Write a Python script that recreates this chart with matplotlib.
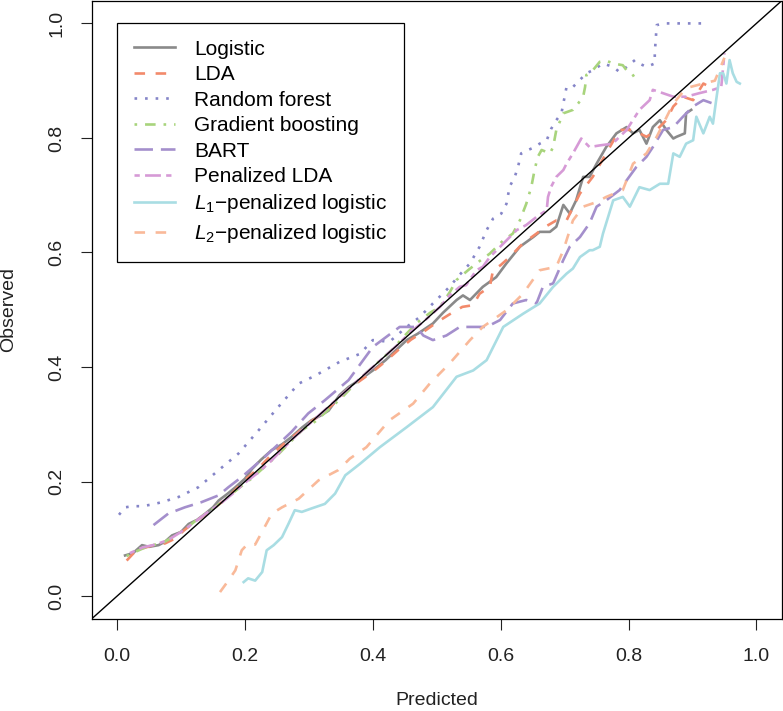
import matplotlib
matplotlib.use("Agg")
import matplotlib.pyplot as plt

plt.rcParams["font.family"] = ["Liberation Sans", "DejaVu Sans"]
plt.rcParams["mathtext.fontset"] = "custom"
plt.rcParams["mathtext.rm"] = "Liberation Sans"
plt.rcParams["mathtext.it"] = "Liberation Sans:italic"

# calibration curves (predicted, observed)
logistic_x = [0.0125, 0.025, 0.039, 0.05, 0.065, 0.075, 0.086, 0.1, 0.112, 0.125, 0.138, 0.15, 0.159, 0.172,
              0.185, 0.2, 0.211, 0.225, 0.242, 0.258, 0.273, 0.29, 0.304, 0.318, 0.331, 0.348, 0.362, 0.38, 0.4,
              0.42, 0.435, 0.453, 0.47, 0.494, 0.51, 0.531, 0.541, 0.552, 0.572, 0.593, 0.609, 0.63, 0.651, 0.661,
              0.677, 0.687, 0.698, 0.708, 0.718, 0.729, 0.739, 0.75, 0.765, 0.781, 0.797, 0.807, 0.817, 0.828,
              0.838, 0.849, 0.859, 0.87, 0.875, 0.888, 0.89, 0.898]
logistic_y = [0.071, 0.075, 0.089, 0.086, 0.089, 0.095, 0.106, 0.112, 0.126, 0.133, 0.144, 0.155, 0.167, 0.178,
              0.19, 0.205, 0.222, 0.238, 0.255, 0.265, 0.278, 0.295, 0.307, 0.315, 0.324, 0.351, 0.365, 0.378, 0.394,
              0.412, 0.428, 0.447, 0.458, 0.476, 0.495, 0.517, 0.525, 0.517, 0.54, 0.557, 0.581, 0.61, 0.627, 0.636,
              0.636, 0.645, 0.683, 0.668, 0.691, 0.732, 0.732, 0.755, 0.784, 0.808, 0.819, 0.808, 0.814, 0.79,
              0.819, 0.831, 0.814, 0.799, 0.802, 0.808, 0.843, 0.849]

lda_x = [0.015, 0.03, 0.045, 0.06, 0.075, 0.09, 0.105, 0.12, 0.135, 0.15, 0.165, 0.18, 0.2, 0.22, 0.24, 0.26, 0.28,
         0.3, 0.32, 0.34, 0.36, 0.38, 0.4, 0.42, 0.44, 0.46, 0.48, 0.5, 0.52, 0.54, 0.557, 0.567, 0.583, 0.588, 0.6,
         0.614, 0.635, 0.656, 0.67, 0.687, 0.703, 0.724, 0.744, 0.765, 0.786, 0.807, 0.828, 0.844, 0.859, 0.87,
         0.885, 0.901, 0.917, 0.927]
lda_y = [0.062, 0.08, 0.085, 0.09, 0.092, 0.1, 0.115, 0.128, 0.14, 0.152, 0.165, 0.18, 0.203, 0.222, 0.245, 0.265,
         0.283, 0.302, 0.318, 0.337, 0.36, 0.376, 0.392, 0.41, 0.43, 0.448, 0.462, 0.478, 0.492, 0.505, 0.508, 0.528,
         0.54, 0.569, 0.578, 0.592, 0.616, 0.633, 0.645, 0.656, 0.656, 0.703, 0.732, 0.773, 0.814, 0.814, 0.802,
         0.814, 0.831, 0.855, 0.872, 0.866, 0.895, 0.889]

rf_x = [0.003, 0.0125, 0.025, 0.039, 0.055, 0.07, 0.096, 0.127, 0.159, 0.19, 0.221, 0.252, 0.284, 0.31, 0.348, 0.38,
        0.4, 0.426, 0.453, 0.473, 0.494, 0.52, 0.535, 0.552, 0.567, 0.578, 0.588, 0.601, 0.609, 0.614, 0.622, 0.627,
        0.632, 0.643, 0.653, 0.661, 0.672, 0.679, 0.687, 0.695, 0.703, 0.713, 0.721, 0.734, 0.744, 0.76, 0.776,
        0.786, 0.797, 0.81, 0.817, 0.828, 0.841, 0.841, 0.843, 0.844, 0.854, 0.88, 0.917]
rf_y = [0.142, 0.155, 0.157, 0.157, 0.16, 0.164, 0.173, 0.19, 0.22, 0.249, 0.289, 0.33, 0.371, 0.385, 0.409, 0.423,
        0.447, 0.444, 0.47, 0.487, 0.511, 0.54, 0.56, 0.581, 0.61, 0.639, 0.659, 0.668, 0.685, 0.715, 0.732, 0.749,
        0.773, 0.779, 0.784, 0.79, 0.796, 0.816, 0.831, 0.843, 0.889, 0.889, 0.898, 0.913, 0.918, 0.93, 0.924,
        0.915, 0.924, 0.936, 0.93, 0.924, 0.93, 0.948, 0.98, 0.997, 1.0, 1.0, 1.0]

gb_x = [0.015, 0.03, 0.05, 0.07, 0.09, 0.11, 0.13, 0.15, 0.17, 0.19, 0.21, 0.23, 0.25, 0.27, 0.29, 0.31, 0.33, 0.35,
        0.37, 0.39, 0.41, 0.43, 0.45, 0.47, 0.49, 0.505, 0.52, 0.531, 0.55, 0.567, 0.583, 0.604, 0.619, 0.63, 0.64,
        0.648, 0.653, 0.658, 0.664, 0.677, 0.682, 0.687, 0.698, 0.713, 0.721, 0.729, 0.732, 0.734, 0.744, 0.755,
        0.765, 0.776, 0.791, 0.797, 0.805, 0.812]
gb_y = [0.07, 0.078, 0.088, 0.092, 0.105, 0.12, 0.138, 0.152, 0.17, 0.188, 0.205, 0.225, 0.245, 0.268, 0.29, 0.305,
        0.325, 0.345, 0.368, 0.39, 0.41, 0.43, 0.455, 0.478, 0.495, 0.505, 0.53, 0.552, 0.57, 0.585, 0.598, 0.621,
        0.633, 0.656, 0.685, 0.715, 0.744, 0.767, 0.779, 0.773, 0.784, 0.814, 0.843, 0.849, 0.86, 0.872, 0.889,
        0.91, 0.918, 0.933, 0.935, 0.93, 0.927, 0.918, 0.913, 0.901]

bart_x = [0.057, 0.08, 0.106, 0.132, 0.159, 0.174, 0.195, 0.231, 0.273, 0.299, 0.325, 0.362, 0.4, 0.442, 0.468,
          0.479, 0.494, 0.515, 0.536, 0.557, 0.578, 0.599, 0.619, 0.64, 0.656, 0.666, 0.682, 0.698, 0.708, 0.724,
          0.739, 0.75, 0.765, 0.786, 0.797, 0.812, 0.828, 0.838, 0.854, 0.87, 0.885, 0.901, 0.917, 0.932]
bart_y = [0.124, 0.144, 0.155, 0.164, 0.176, 0.19, 0.208, 0.243, 0.287, 0.319, 0.342, 0.377, 0.435, 0.47, 0.47,
          0.455, 0.447, 0.455, 0.47, 0.47, 0.47, 0.482, 0.511, 0.517, 0.511, 0.54, 0.546, 0.587, 0.61, 0.627,
          0.651, 0.68, 0.691, 0.709, 0.726, 0.749, 0.767, 0.784, 0.814, 0.819, 0.837, 0.855, 0.866, 0.86]

plda_x = [0.02, 0.04, 0.06, 0.08, 0.1, 0.12, 0.14, 0.16, 0.18, 0.2, 0.22, 0.24, 0.26, 0.28, 0.3, 0.32, 0.34, 0.36,
          0.38, 0.4, 0.42, 0.44, 0.46, 0.48, 0.505, 0.52, 0.536, 0.546, 0.562, 0.572, 0.583, 0.609, 0.625, 0.64,
          0.656, 0.672, 0.674, 0.679, 0.687, 0.698, 0.703, 0.713, 0.726, 0.739, 0.755, 0.775, 0.797, 0.817, 0.833,
          0.838, 0.849, 0.87, 0.89, 0.91, 0.932, 0.945, 0.95]
plda_y = [0.075, 0.085, 0.09, 0.098, 0.112, 0.128, 0.145, 0.16, 0.178, 0.198, 0.215, 0.235, 0.258, 0.28, 0.3, 0.32,
          0.34, 0.36, 0.38, 0.4, 0.42, 0.44, 0.462, 0.48, 0.505, 0.525, 0.54, 0.543, 0.569, 0.575, 0.592, 0.621,
          0.639, 0.648, 0.662, 0.674, 0.697, 0.715, 0.732, 0.744, 0.755, 0.773, 0.799, 0.784, 0.787, 0.79, 0.814,
          0.849, 0.866, 0.884, 0.88, 0.872, 0.872, 0.878, 0.884, 0.889, 0.948]

l1_x = [0.198, 0.205, 0.216, 0.227, 0.234, 0.245, 0.258, 0.268, 0.278, 0.289, 0.304, 0.325, 0.341, 0.357, 0.364,
        0.38, 0.411, 0.453, 0.494, 0.531, 0.557, 0.578, 0.604, 0.635, 0.661, 0.682, 0.703, 0.713, 0.724, 0.739,
        0.744, 0.755, 0.76, 0.776, 0.791, 0.802, 0.817, 0.833, 0.849, 0.862, 0.87, 0.88, 0.89, 0.901, 0.906, 0.917,
        0.927, 0.932, 0.937, 0.943, 0.948, 0.953, 0.958, 0.963, 0.969, 0.974]
l1_y = [0.0245, 0.031, 0.027, 0.042, 0.08, 0.089, 0.103, 0.126, 0.15, 0.147, 0.153, 0.161, 0.179, 0.211, 0.217,
        0.231, 0.26, 0.295, 0.33, 0.383, 0.394, 0.412, 0.47, 0.493, 0.511, 0.54, 0.563, 0.572, 0.592, 0.604, 0.604,
        0.61, 0.633, 0.691, 0.697, 0.68, 0.714, 0.709, 0.72, 0.72, 0.773, 0.767, 0.79, 0.796, 0.837, 0.808, 0.837,
        0.825, 0.866, 0.913, 0.913, 0.895, 0.936, 0.913, 0.898, 0.895]

l2_x = [0.161, 0.174, 0.185, 0.195, 0.205, 0.216, 0.231, 0.242, 0.258, 0.284, 0.315, 0.346, 0.364, 0.39, 0.426,
        0.463, 0.489, 0.52, 0.552, 0.572, 0.609, 0.635, 0.661, 0.687, 0.698, 0.713, 0.729, 0.75, 0.765, 0.791,
        0.807, 0.828, 0.844, 0.87, 0.89, 0.917, 0.935, 0.95]
l2_y = [0.007, 0.027, 0.045, 0.08, 0.092, 0.09, 0.121, 0.144, 0.155, 0.17, 0.202, 0.22, 0.24, 0.26, 0.307, 0.336,
        0.371, 0.406, 0.447, 0.47, 0.499, 0.528, 0.569, 0.575, 0.604, 0.656, 0.68, 0.688, 0.697, 0.709, 0.755,
        0.773, 0.802, 0.86, 0.887, 0.895, 0.9, 0.94]

labels = ["Logistic", "LDA", "Random forest", "Gradient boosting", "BART", "Penalized LDA",
          "$L_1$\u2212penalized logistic", "$L_2$\u2212penalized logistic"]
colors = ["#8a8a8a", "#f28a6b", "#8585c8", "#a8d47c", "#a48fcc", "#d69ad6", "#a9dde3", "#f9b999"]
dashes = [None, (4, 4), (1, 3), (1, 3, 4, 3), (7, 3), (2, 2, 6, 2), None, (4, 4)]

series = [(logistic_x, logistic_y), (lda_x, lda_y), (rf_x, rf_y), (gb_x, gb_y), (bart_x, bart_y),
          (plda_x, plda_y), (l1_x, l1_y), (l2_x, l2_y)]

fig = plt.figure(figsize=(7.83, 7.11), dpi=100)
ax = fig.add_axes([91.5 / 783, 92 / 711, 690.5 / 783, 618.5 / 711])

for (xs, ys), lab, col, dsh in zip(series, labels, colors, dashes):
    line, = ax.plot(xs, ys, color=col, lw=1.9, label=lab)
    if dsh is not None:
        line.set_dashes(dsh)

ax.axline((0, 0), slope=1, color="black", lw=1, zorder=5)

ax.set_xlim(-0.04, 1.04)
ax.set_ylim(-0.04, 1.04)
ticks = [0.0, 0.2, 0.4, 0.6, 0.8, 1.0]
ax.set_xticks(ticks, [f"{t:.1f}" for t in ticks])
ax.set_yticks(ticks, [f"{t:.1f}" for t in ticks])
ax.tick_params(length=8, width=0.8, labelsize=14, colors="#222222", pad=13)
ax.tick_params(axis="y", labelrotation=90, pad=11)
for lbl in ax.get_yticklabels():
    lbl.set_va("center")
for sp in ax.spines.values():
    sp.set_linewidth(0.9)
    sp.set_color("black")

ax.set_xlabel("Predicted", fontsize=14, color="#222222", va="center")
ax.xaxis.set_label_coords(0.5, -0.132)
ax.set_ylabel("Observed", fontsize=14, color="#222222", va="center")
ax.yaxis.set_label_coords(-0.12, 0.5)

leg = ax.legend(loc="upper left", bbox_to_anchor=(0.0369, 0.9636), borderaxespad=0, fontsize=15,
                handlelength=2.0, handletextpad=0.9, labelspacing=0.31, borderpad=0.8,
                fancybox=False, framealpha=1, edgecolor="black")
leg.get_frame().set_linewidth(0.9)

fig.savefig("out.png", dpi=100)
